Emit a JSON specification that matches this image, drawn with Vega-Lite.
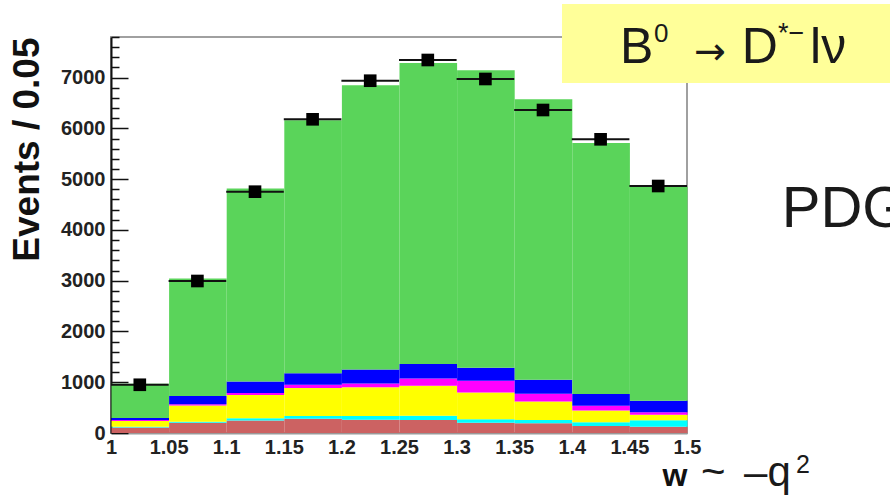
{
  "$schema": "https://vega.github.io/schema/vega-lite/v6.json",
  "width": 576,
  "height": 396,
  "autosize": {"type": "none"},
  "padding": {"left": 111, "top": 37, "right": 203, "bottom": 69},
  "background": "white",
  "config": {"view": {"stroke": "#a0a0a0", "strokeWidth": 2}, "font": "Liberation Sans", "axis": {"labelOverlap": false}},
  "datasets": {
    "mc": [
      {"lo": 1.00, "hi": 1.05, "comp": "Bkg 5", "k": 1, "n": 110},
      {"lo": 1.00, "hi": 1.05, "comp": "Bkg 4", "k": 2, "n": 15},
      {"lo": 1.00, "hi": 1.05, "comp": "Bkg 3", "k": 3, "n": 110},
      {"lo": 1.00, "hi": 1.05, "comp": "Bkg 2", "k": 4, "n": 20},
      {"lo": 1.00, "hi": 1.05, "comp": "Bkg 1", "k": 5, "n": 40},
      {"lo": 1.00, "hi": 1.05, "comp": "Signal", "k": 6, "n": 675},
      {"lo": 1.05, "hi": 1.10, "comp": "Bkg 5", "k": 1, "n": 200},
      {"lo": 1.05, "hi": 1.10, "comp": "Bkg 4", "k": 2, "n": 20},
      {"lo": 1.05, "hi": 1.10, "comp": "Bkg 3", "k": 3, "n": 320},
      {"lo": 1.05, "hi": 1.10, "comp": "Bkg 2", "k": 4, "n": 25},
      {"lo": 1.05, "hi": 1.10, "comp": "Bkg 1", "k": 5, "n": 165},
      {"lo": 1.05, "hi": 1.10, "comp": "Signal", "k": 6, "n": 2315},
      {"lo": 1.10, "hi": 1.15, "comp": "Bkg 5", "k": 1, "n": 245},
      {"lo": 1.10, "hi": 1.15, "comp": "Bkg 4", "k": 2, "n": 45},
      {"lo": 1.10, "hi": 1.15, "comp": "Bkg 3", "k": 3, "n": 460},
      {"lo": 1.10, "hi": 1.15, "comp": "Bkg 2", "k": 4, "n": 40},
      {"lo": 1.10, "hi": 1.15, "comp": "Bkg 1", "k": 5, "n": 225},
      {"lo": 1.10, "hi": 1.15, "comp": "Signal", "k": 6, "n": 3802},
      {"lo": 1.15, "hi": 1.20, "comp": "Bkg 5", "k": 1, "n": 280},
      {"lo": 1.15, "hi": 1.20, "comp": "Bkg 4", "k": 2, "n": 55},
      {"lo": 1.15, "hi": 1.20, "comp": "Bkg 3", "k": 3, "n": 550},
      {"lo": 1.15, "hi": 1.20, "comp": "Bkg 2", "k": 4, "n": 65},
      {"lo": 1.15, "hi": 1.20, "comp": "Bkg 1", "k": 5, "n": 225},
      {"lo": 1.15, "hi": 1.20, "comp": "Signal", "k": 6, "n": 4986},
      {"lo": 1.20, "hi": 1.25, "comp": "Bkg 5", "k": 1, "n": 260},
      {"lo": 1.20, "hi": 1.25, "comp": "Bkg 4", "k": 2, "n": 75},
      {"lo": 1.20, "hi": 1.25, "comp": "Bkg 3", "k": 3, "n": 565},
      {"lo": 1.20, "hi": 1.25, "comp": "Bkg 2", "k": 4, "n": 75},
      {"lo": 1.20, "hi": 1.25, "comp": "Bkg 1", "k": 5, "n": 275},
      {"lo": 1.20, "hi": 1.25, "comp": "Signal", "k": 6, "n": 5600},
      {"lo": 1.25, "hi": 1.30, "comp": "Bkg 5", "k": 1, "n": 255},
      {"lo": 1.25, "hi": 1.30, "comp": "Bkg 4", "k": 2, "n": 85},
      {"lo": 1.25, "hi": 1.30, "comp": "Bkg 3", "k": 3, "n": 590},
      {"lo": 1.25, "hi": 1.30, "comp": "Bkg 2", "k": 4, "n": 145},
      {"lo": 1.25, "hi": 1.30, "comp": "Bkg 1", "k": 5, "n": 285},
      {"lo": 1.25, "hi": 1.30, "comp": "Signal", "k": 6, "n": 5930},
      {"lo": 1.30, "hi": 1.35, "comp": "Bkg 5", "k": 1, "n": 200},
      {"lo": 1.30, "hi": 1.35, "comp": "Bkg 4", "k": 2, "n": 70},
      {"lo": 1.30, "hi": 1.35, "comp": "Bkg 3", "k": 3, "n": 530},
      {"lo": 1.30, "hi": 1.35, "comp": "Bkg 2", "k": 4, "n": 230},
      {"lo": 1.30, "hi": 1.35, "comp": "Bkg 1", "k": 5, "n": 255},
      {"lo": 1.30, "hi": 1.35, "comp": "Signal", "k": 6, "n": 5861},
      {"lo": 1.35, "hi": 1.40, "comp": "Bkg 5", "k": 1, "n": 190},
      {"lo": 1.35, "hi": 1.40, "comp": "Bkg 4", "k": 2, "n": 65},
      {"lo": 1.35, "hi": 1.40, "comp": "Bkg 3", "k": 3, "n": 365},
      {"lo": 1.35, "hi": 1.40, "comp": "Bkg 2", "k": 4, "n": 155},
      {"lo": 1.35, "hi": 1.40, "comp": "Bkg 1", "k": 5, "n": 275},
      {"lo": 1.35, "hi": 1.40, "comp": "Signal", "k": 6, "n": 5525},
      {"lo": 1.40, "hi": 1.45, "comp": "Bkg 5", "k": 1, "n": 140},
      {"lo": 1.40, "hi": 1.45, "comp": "Bkg 4", "k": 2, "n": 70},
      {"lo": 1.40, "hi": 1.45, "comp": "Bkg 3", "k": 3, "n": 235},
      {"lo": 1.40, "hi": 1.45, "comp": "Bkg 2", "k": 4, "n": 90},
      {"lo": 1.40, "hi": 1.45, "comp": "Bkg 1", "k": 5, "n": 235},
      {"lo": 1.40, "hi": 1.45, "comp": "Signal", "k": 6, "n": 4944},
      {"lo": 1.45, "hi": 1.50, "comp": "Bkg 5", "k": 1, "n": 125},
      {"lo": 1.45, "hi": 1.50, "comp": "Bkg 4", "k": 2, "n": 125},
      {"lo": 1.45, "hi": 1.50, "comp": "Bkg 3", "k": 3, "n": 110},
      {"lo": 1.45, "hi": 1.50, "comp": "Bkg 2", "k": 4, "n": 50},
      {"lo": 1.45, "hi": 1.50, "comp": "Bkg 1", "k": 5, "n": 225},
      {"lo": 1.45, "hi": 1.50, "comp": "Signal", "k": 6, "n": 4215}
    ],
    "obs": [
      {"lo": 1.00, "hi": 1.05, "w": 1.025, "n": 950},
      {"lo": 1.05, "hi": 1.10, "w": 1.075, "n": 2994},
      {"lo": 1.10, "hi": 1.15, "w": 1.125, "n": 4753},
      {"lo": 1.15, "hi": 1.20, "w": 1.175, "n": 6179},
      {"lo": 1.20, "hi": 1.25, "w": 1.225, "n": 6939},
      {"lo": 1.25, "hi": 1.30, "w": 1.275, "n": 7347},
      {"lo": 1.30, "hi": 1.35, "w": 1.325, "n": 6973},
      {"lo": 1.35, "hi": 1.40, "w": 1.375, "n": 6362},
      {"lo": 1.40, "hi": 1.45, "w": 1.425, "n": 5785},
      {"lo": 1.45, "hi": 1.50, "w": 1.475, "n": 4865}
    ]
  },
  "layer": [
    {
      "data": {"name": "mc"},
      "mark": {"type": "bar", "binSpacing": 0, "strokeWidth": 0},
      "encoding": {
        "x": {
          "field": "lo", "type": "quantitative", "bin": "binned",
          "scale": {"domain": [1, 1.5], "nice": false, "zero": false},
          "axis": {
            "values": [1, 1.05, 1.1, 1.15, 1.2, 1.25, 1.3, 1.35, 1.4, 1.45, 1.5],
            "tickCount": 50,
            "format": "~g", "ticks": false, "grid": false,
            "domainColor": "#999999", "domainWidth": 2,
            "labelFont": "Liberation Sans", "labelFontWeight": "bold", "labelFontSize": 20,
            "labelColor": "#222222", "labelPadding": 4, "labelFlush": false, "labelOverlap": false,
            "title": "w", "titleFont": "Liberation Sans", "titleFontSize": 32, "titleFontWeight": "bold",
            "titleColor": "#111111", "titleAnchor": "end", "titleAlign": "right",
            "titleBaseline": "alphabetic", "titlePadding": 28
          }
        },
        "x2": {"field": "hi"},
        "y": {
          "field": "n", "type": "quantitative", "stack": "zero",
          "scale": {"domain": [0, 7800], "nice": false},
          "axis": {
            "values": [0, 200, 400, 600, 800, 1000, 1200, 1400, 1600, 1800, 2000, 2200, 2400, 2600, 2800, 3000, 3200, 3400, 3600, 3800, 4000, 4200, 4400, 4600, 4800, 5000, 5200, 5400, 5600, 5800, 6000, 6200, 6400, 6600, 6800, 7000, 7200, 7400, 7600, 7800],
            "tickCount": 100,
            "format": "d",
            "labelExpr": "datum.value % 1000 === 0 ? datum.label : ''",
            "labelFontSize": {"condition": {"test": "datum.value % 1000 === 0", "value": 20}, "value": 0},
            "tickSize": {"condition": {"test": "datum.value % 1000 === 0", "value": -17}, "value": -8},
            "tickColor": "#111111", "tickWidth": 1.5,
            "domainColor": "#111111", "domainWidth": 2, "grid": false,
            "labelFont": "Liberation Sans", "labelFontWeight": "bold",
            "labelColor": "#222222", "labelPadding": 23, "labelFlush": false, "labelOverlap": false,
            "title": "Events / 0.05", "titleFont": "Liberation Sans", "titleFontSize": 37,
            "titleFontWeight": "bold", "titleColor": "#111111", "titleAnchor": "end", "titlePadding": 14
          }
        },
        "color": {
          "field": "comp", "type": "nominal", "legend": null,
          "scale": {
            "domain": ["Bkg 5", "Bkg 4", "Bkg 3", "Bkg 2", "Bkg 1", "Signal"],
            "range": ["#cc6262", "#00ffff", "#ffff00", "#ff00ff", "#0000ff", "#5ad45a"]
          }
        },
        "order": {"field": "k", "type": "quantitative"}
      }
    },
    {
      "data": {"name": "obs"},
      "mark": {"type": "rule", "color": "#111111", "strokeWidth": 2},
      "encoding": {
        "x": {"field": "lo", "type": "quantitative"},
        "x2": {"field": "hi"},
        "y": {"field": "n", "type": "quantitative"}
      }
    },
    {
      "data": {"name": "obs"},
      "mark": {"type": "point", "shape": "square", "filled": true, "size": 160, "color": "#000000", "opacity": 1},
      "encoding": {
        "x": {"field": "w", "type": "quantitative"},
        "y": {"field": "n", "type": "quantitative"}
      }
    },
    {
      "data": {"values": [{"box": "decay"}]},
      "mark": {"type": "rect", "color": "#ffff99", "clip": false},
      "encoding": {
        "x": {"datum": 1.3915, "type": "quantitative"},
        "x2": {"datum": 1.69},
        "y": {"datum": 8450, "type": "quantitative"},
        "y2": {"datum": 6894}
      }
    },
    {
      "data": {"values": [{"t": "B"}]},
      "mark": {"type": "text", "align": "left", "baseline": "alphabetic", "fontSize": 50, "font": "Liberation Sans", "color": "#1a1a1a"},
      "encoding": {
        "x": {"datum": 1.4418, "type": "quantitative"},
        "y": {"datum": 7288, "type": "quantitative"},
        "text": {"field": "t"}
      }
    },
    {
      "data": {"values": [{"t": "0"}]},
      "mark": {"type": "text", "align": "left", "baseline": "alphabetic", "fontSize": 26, "font": "Liberation Sans", "color": "#1a1a1a"},
      "encoding": {
        "x": {"datum": 1.4714, "type": "quantitative"},
        "y": {"datum": 7707, "type": "quantitative"},
        "text": {"field": "t"}
      }
    },
    {
      "data": {"values": [{"t": "→"}]},
      "mark": {"type": "text", "align": "left", "baseline": "alphabetic", "fontSize": 38, "font": "DejaVu Sans", "color": "#1a1a1a"},
      "encoding": {
        "x": {"datum": 1.5061, "type": "quantitative"},
        "y": {"datum": 7268, "type": "quantitative"},
        "text": {"field": "t"}
      }
    },
    {
      "data": {"values": [{"t": "D"}]},
      "mark": {"type": "text", "align": "left", "baseline": "alphabetic", "fontSize": 50, "font": "Liberation Sans", "color": "#1a1a1a"},
      "encoding": {
        "x": {"datum": 1.5475, "type": "quantitative"},
        "y": {"datum": 7288, "type": "quantitative"},
        "text": {"field": "t"}
      }
    },
    {
      "data": {"values": [{"t": "*−"}]},
      "mark": {"type": "text", "align": "left", "baseline": "alphabetic", "fontSize": 27, "font": "Liberation Sans", "color": "#1a1a1a"},
      "encoding": {
        "x": {"datum": 1.579, "type": "quantitative"},
        "y": {"datum": 7707, "type": "quantitative"},
        "text": {"field": "t"}
      }
    },
    {
      "data": {"values": [{"t": "lν"}]},
      "mark": {"type": "text", "align": "left", "baseline": "alphabetic", "fontSize": 50, "font": "Liberation Sans", "color": "#1a1a1a"},
      "encoding": {
        "x": {"datum": 1.6068, "type": "quantitative"},
        "y": {"datum": 7288, "type": "quantitative"},
        "text": {"field": "t"}
      }
    },
    {
      "data": {"values": [{"t": "PDG"}]},
      "mark": {"type": "text", "align": "left", "baseline": "alphabetic", "fontSize": 58, "font": "Liberation Sans", "color": "#1a1a1a"},
      "encoding": {
        "x": {"datum": 1.5822, "type": "quantitative"},
        "y": {"datum": 4063, "type": "quantitative"},
        "text": {"field": "t"}
      }
    },
    {
      "data": {"values": [{"t": "~"}]},
      "mark": {"type": "text", "align": "left", "baseline": "alphabetic", "fontSize": 42, "font": "Liberation Sans", "color": "#1a1a1a"},
      "encoding": {
        "x": {"datum": 1.5122, "type": "quantitative"},
        "y": {"datum": -1044, "type": "quantitative"},
        "text": {"field": "t"}
      }
    },
    {
      "data": {"values": [{"t": "–q"}]},
      "mark": {"type": "text", "align": "left", "baseline": "alphabetic", "fontSize": 42, "font": "Liberation Sans", "color": "#1a1a1a"},
      "encoding": {
        "x": {"datum": 1.5495, "type": "quantitative"},
        "y": {"datum": -1044, "type": "quantitative"},
        "text": {"field": "t"}
      }
    },
    {
      "data": {"values": [{"t": "2"}]},
      "mark": {"type": "text", "align": "left", "baseline": "alphabetic", "fontSize": 25, "font": "Liberation Sans", "color": "#1a1a1a"},
      "encoding": {
        "x": {"datum": 1.5947, "type": "quantitative"},
        "y": {"datum": -788, "type": "quantitative"},
        "text": {"field": "t"}
      }
    }
  ]
}
